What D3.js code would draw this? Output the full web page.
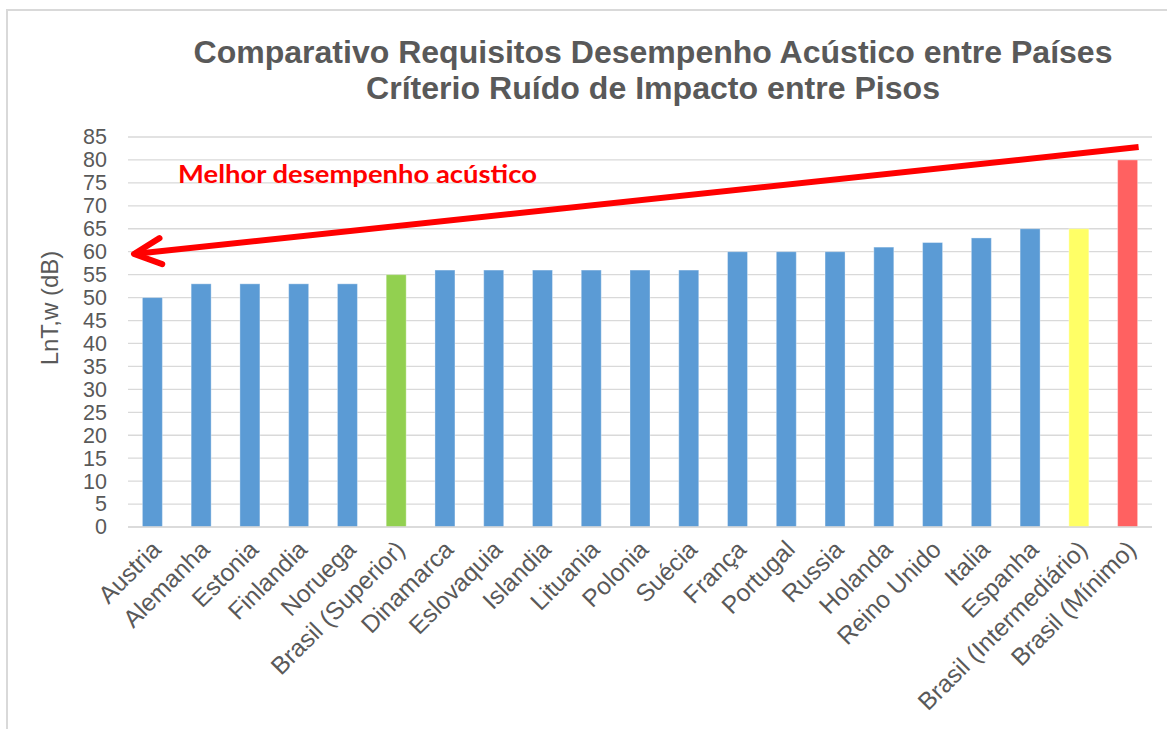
<!DOCTYPE html>
<html>
<head>
<meta charset="utf-8">
<script src="https://cdn.jsdelivr.net/npm/d3@7"></script>
<style>
  html, body { margin: 0; padding: 0; background: #fff; }
  svg { display: block; }
</style>
</head>
<body>
<svg id="chart" width="1167" height="729"></svg>
<script>
// Requisitos de ruído de impacto (LnT,w em dB) por país
const categories = [
  "Austria", "Alemanha", "Estonia", "Finlandia", "Noruega", "Brasil (Superior)",
  "Dinamarca", "Eslovaquia", "Islandia", "Lituania", "Polonia", "Suécia",
  "França", "Portugal", "Russia", "Holanda", "Reino Unido", "Italia", "Espanha",
  "Brasil (Intermediário)", "Brasil (Mínimo)"
];
const values = [50, 53, 53, 53, 53, 55, 56, 56, 56, 56, 56, 56, 60, 60, 60, 61, 62, 63, 65, 65, 80];
const barColors = [
  "#5B9BD5", "#5B9BD5", "#5B9BD5", "#5B9BD5", "#5B9BD5", "#92D050",
  "#5B9BD5", "#5B9BD5", "#5B9BD5", "#5B9BD5", "#5B9BD5", "#5B9BD5",
  "#5B9BD5", "#5B9BD5", "#5B9BD5", "#5B9BD5", "#5B9BD5", "#5B9BD5", "#5B9BD5",
  "#FFFF66", "#FF6161"
];
const yTicks = d3.range(0, 86, 5);
const titleLines = [
  "Comparativo Requisitos Desempenho Acústico entre Países",
  "Críterio Ruído de Impacto entre Pisos"
];
const yAxisTitle = "LnT,w (dB)";
const annotationText = "Melhor desempenho acústico";
// seta: da extremidade direita (valor alto) para a esquerda (valor baixo)
const arrowFrom = 82.8;
const arrowTo = 59.5;

const svg = d3.select("#chart");
const W = 1167, H = 729;
const plot = { left: 128, right: 1152, top: 137, bottom: 527 };

// moldura do gráfico
svg.append("rect")
  .attr("x", 7).attr("y", 10)
  .attr("width", W).attr("height", H)
  .attr("fill", "#fff")
  .attr("stroke", "#d9d9d9").attr("stroke-width", 2);

const x = d3.scaleBand()
  .domain(categories)
  .range([plot.left, plot.right])
  .paddingInner(0.59)
  .paddingOuter(0.295);

const y = d3.scaleLinear()
  .domain([0, 85])
  .range([plot.bottom, plot.top]);

// linhas de grade
svg.append("g")
  .selectAll("line")
  .data(yTicks)
  .join("line")
  .attr("x1", plot.left).attr("x2", plot.right)
  .attr("y1", d => y(d)).attr("y2", d => y(d))
  .attr("stroke", "#d9d9d9").attr("stroke-width", 1.3);

// eixo Y
const yAxis = svg.append("g")
  .attr("transform", `translate(${plot.left},0)`)
  .call(d3.axisLeft(y).tickValues(yTicks).tickSize(0).tickPadding(21));
yAxis.select(".domain").remove();
yAxis.selectAll("text")
  .attr("fill", "#595959")
  .style("font-family", "'Liberation Sans', Arial, sans-serif")
  .style("font-size", "21.5px");

// barras
svg.append("g")
  .selectAll("rect")
  .data(categories)
  .join("rect")
  .attr("x", d => x(d))
  .attr("width", x.bandwidth())
  .attr("y", (d, i) => y(values[i]))
  .attr("height", (d, i) => y(0) - y(values[i]))
  .attr("fill", (d, i) => barColors[i])
  .attr("stroke", "rgba(255,255,255,0.35)")
  .attr("stroke-width", 1);

// eixo X (rótulos inclinados)
const xAxis = svg.append("g")
  .attr("transform", `translate(0,${plot.bottom})`)
  .call(d3.axisBottom(x).tickSize(0).tickPadding(0));
xAxis.select(".domain")
  .attr("stroke", "#d9d9d9").attr("stroke-width", 1.3)
  .attr("d", `M${plot.left},0H${plot.right}`);
xAxis.selectAll(".tick text")
  .attr("fill", "#595959")
  .attr("text-anchor", "end")
  .attr("dy", 0)
  .attr("y", 0)
  .attr("transform", "translate(10,24) rotate(-45)")
  .style("font-family", "'Liberation Sans', Arial, sans-serif")
  .style("font-size", "24.5px");

// título
const title = svg.append("g")
  .attr("fill", "#595959")
  .style("font-family", "'Liberation Sans Narrow', 'Arial Narrow', 'Liberation Sans', Arial, sans-serif")
  .style("font-weight", "bold")
  .style("font-size", "31px");
title.append("text")
  .attr("x", 653).attr("y", 63)
  .attr("text-anchor", "middle")
  .attr("textLength", 919).attr("lengthAdjust", "spacingAndGlyphs")
  .text(titleLines[0]);
title.append("text")
  .attr("x", 653).attr("y", 99)
  .attr("text-anchor", "middle")
  .attr("textLength", 574).attr("lengthAdjust", "spacingAndGlyphs")
  .text(titleLines[1]);

// título do eixo Y
svg.append("text")
  .attr("transform", `translate(58,${(y(0) + y(85)) / 2 - 24}) rotate(-90)`)
  .attr("text-anchor", "middle")
  .attr("fill", "#595959")
  .style("font-family", "'Liberation Sans', Arial, sans-serif")
  .style("font-size", "24px")
  .text(yAxisTitle);

// anotação: seta e texto
const arrowX1 = x(categories[categories.length - 1]) + x.bandwidth() + 1;
const arrowX0 = plot.left + 6;
const ay0 = y(arrowTo), ay1 = y(arrowFrom);
const ang = Math.atan2(ay1 - ay0, arrowX1 - arrowX0);
const headLen = 30, headAng = 0.45;
const arrow = svg.append("g")
  .attr("stroke", "#FF0000").attr("fill", "none")
  .attr("stroke-width", 6).attr("stroke-linecap", "round").attr("stroke-linejoin", "round");
arrow.append("line")
  .attr("x1", arrowX1).attr("y1", ay1)
  .attr("x2", arrowX0).attr("y2", ay0)
  .attr("stroke-linecap", "butt");
arrow.append("path")
  .attr("d", d3.line()([
    [arrowX0 + headLen * Math.cos(ang - headAng), ay0 + headLen * Math.sin(ang - headAng)],
    [arrowX0, ay0],
    [arrowX0 + headLen * Math.cos(ang + headAng), ay0 + headLen * Math.sin(ang + headAng)]
  ]));

svg.append("text")
  .attr("x", 178).attr("y", y(74.9))
  .attr("fill", "#FF0000")
  .style("font-family", "Lato, 'Open Sans', sans-serif")
  .style("font-weight", "bold")
  .style("font-size", "25px")
  .attr("textLength", 359).attr("lengthAdjust", "spacingAndGlyphs")
  .text(annotationText);
</script>
</body>
</html>
